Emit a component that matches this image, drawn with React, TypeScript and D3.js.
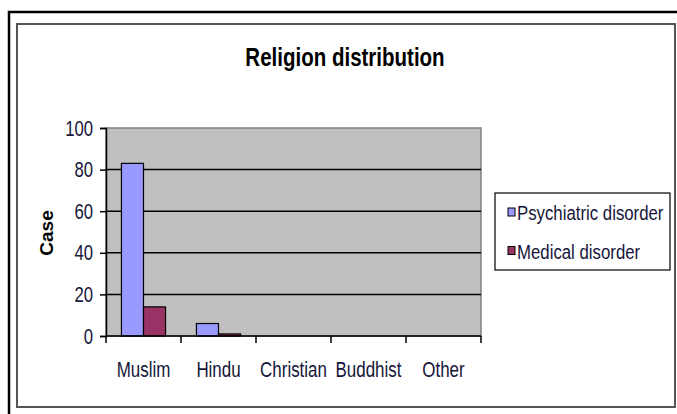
import React, { useEffect, useRef } from 'react';
import * as d3 from 'd3';

// chart data
const religions = ['Muslim', 'Hindu', 'Christian', 'Buddhist', 'Other'];
const psychiatric = [83, 6, 0, 0, 0];
const medical = [14, 1, 0, 0, 0];
const seriesNames = ['Psychiatric disorder', 'Medical disorder'];
const seriesColors = ['#9999ff', '#993366'];
const yTicks = [0, 20, 40, 60, 80, 100];

const sans = '"Liberation Sans", Arial, sans-serif';
const textColor = '#16163a';

const App = () => {
    const svgRef = useRef<SVGSVGElement>(null);

    useEffect(() => {
        const svg = d3.select(svgRef.current);
        svg.selectAll('*').remove();

        const width = 677;
        const height = 414;
        const plot = { left: 106, right: 481, top: 128, bottom: 336 };

        // no narrow font installed, so squeeze a regular one horizontally
        const narrowText = (parent, x0, y0, str, size, sx, anchor = 'start', weight = 'normal', fill = textColor) =>
            parent.append('text')
                .attr('transform', `translate(${x0},${y0}) scale(${sx},1)`)
                .attr('text-anchor', anchor)
                .attr('font-family', sans)
                .attr('font-weight', weight)
                .attr('font-size', size)
                .attr('fill', fill)
                .text(str);

        // outer frame + inner chart frame
        svg.append('rect')
            .attr('x', 9).attr('y', 12)
            .attr('width', width).attr('height', height)
            .attr('fill', 'white')
            .attr('stroke', '#000').attr('stroke-width', 2.5);
        svg.append('rect')
            .attr('x', 17).attr('y', 24)
            .attr('width', 658).attr('height', 383)
            .attr('fill', 'white')
            .attr('stroke', '#555').attr('stroke-width', 2);

        narrowText(svg, 345, 66, 'Religion distribution', 25, 0.82, 'middle', 'bold', '#000');

        const x = d3.scaleBand()
            .domain(religions)
            .range([plot.left, plot.right]);

        const y = d3.scaleLinear()
            .domain([0, 100])
            .range([plot.bottom, plot.top]);

        // plot area
        svg.append('rect')
            .attr('x', plot.left).attr('y', plot.top)
            .attr('width', plot.right - plot.left)
            .attr('height', plot.bottom - plot.top)
            .attr('fill', '#c0c0c0')
            .attr('stroke', '#808080').attr('stroke-width', 1.5);

        // gridlines
        svg.append('g')
            .selectAll('line')
            .data(yTicks.filter(t => t > 0 && t < 100))
            .enter()
            .append('line')
            .attr('x1', plot.left).attr('x2', plot.right)
            .attr('y1', d => y(d)).attr('y2', d => y(d))
            .attr('stroke', '#000').attr('stroke-width', 1.5);

        // bars
        const barW = x.step() / 3.4;
        const groupOffset = (x.step() - barW * 2) / 2;
        const series = [psychiatric, medical];
        series.forEach((vals, si) => {
            svg.append('g')
                .selectAll('rect')
                .data(vals.map((v, i) => ({ cat: religions[i], v })).filter(d => d.v > 0))
                .enter()
                .append('rect')
                .attr('x', d => (x(d.cat) as number) + groupOffset + si * barW)
                .attr('y', d => y(d.v))
                .attr('width', barW)
                .attr('height', d => y(0) - y(d.v))
                .attr('fill', seriesColors[si])
                .attr('stroke', '#000').attr('stroke-width', 1.2);
        });

        // y axis
        const tickSx = 0.76;
        const yAxis = svg.append('g')
            .attr('transform', `translate(${plot.left},0)`)
            .call(d3.axisLeft(y).tickValues(yTicks).tickSize(6).tickPadding(7));
        yAxis.select('.domain').attr('stroke', '#000').attr('stroke-width', 1.5);
        yAxis.selectAll('.tick line').attr('stroke', '#000').attr('stroke-width', 1.5);
        yAxis.selectAll('.tick text')
            .attr('x', -13 / tickSx)
            .attr('transform', `scale(${tickSx},1)`)
            .attr('font-family', sans)
            .attr('font-size', 22)
            .attr('fill', textColor);

        // x axis: ticks on category boundaries
        const xAxisG = svg.append('g');
        xAxisG.append('line')
            .attr('x1', plot.left).attr('x2', plot.right)
            .attr('y1', plot.bottom).attr('y2', plot.bottom)
            .attr('stroke', '#000').attr('stroke-width', 1.5);
        xAxisG.selectAll('.bound')
            .data(religions.concat(['end']))
            .enter()
            .append('line')
            .attr('x1', (d, i) => plot.left + i * x.step())
            .attr('x2', (d, i) => plot.left + i * x.step())
            .attr('y1', plot.bottom).attr('y2', plot.bottom + 7)
            .attr('stroke', '#000').attr('stroke-width', 1.5);
        religions.forEach(r => {
            narrowText(xAxisG, (x(r) as number) + x.bandwidth() / 2, 377, r, 22, 0.77, 'middle');
        });

        // y axis title
        svg.append('text')
            .attr('transform', 'translate(53,233) rotate(-90)')
            .attr('text-anchor', 'middle')
            .attr('font-family', sans)
            .attr('font-weight', 'bold')
            .attr('font-size', 19)
            .attr('fill', '#000')
            .text('Case');

        // legend
        const legend = svg.append('g');
        legend.append('rect')
            .attr('x', 495).attr('y', 193)
            .attr('width', 175).attr('height', 77)
            .attr('fill', 'white')
            .attr('stroke', '#000').attr('stroke-width', 1.2);
        seriesNames.forEach((name, i) => {
            legend.append('rect')
                .attr('x', 508)
                .attr('y', 208 + i * 38.5)
                .attr('width', 7).attr('height', 8)
                .attr('fill', seriesColors[i])
                .attr('stroke', '#000').attr('stroke-width', 1);
            narrowText(legend, 517, 220 + i * 38.5, name, 21, 0.8);
        });
    }, []);

    return (
        <svg ref={svgRef} width={677} height={414}
            style={{ position: 'absolute', left: 0, top: 0 }} />
    );
};

export default App;
